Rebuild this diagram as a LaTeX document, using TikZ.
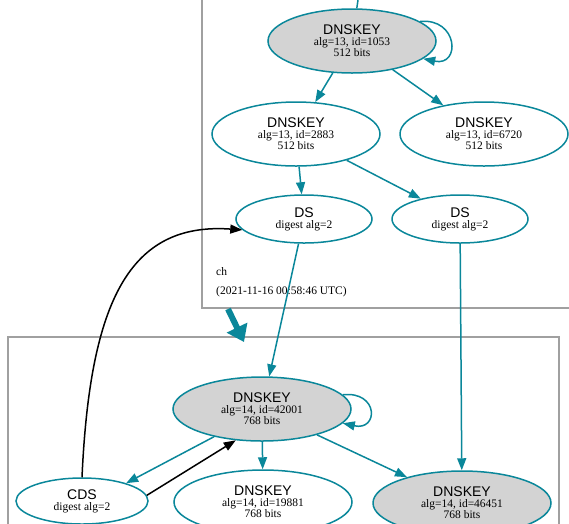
\documentclass[tikz,border=0pt]{standalone}
\usepackage{fontspec}
\setmainfont{Liberation Serif}
\newfontfamily\hvfont{Liberation Sans}
\usepackage{xcolor}
\usetikzlibrary{shapes.geometric,arrows.meta}
\definecolor{dnsteal}{HTML}{0A879A}
\definecolor{keygray}{HTML}{D3D3D3}
\definecolor{zonegray}{HTML}{A0A0A0}
\newcommand{\rrtitle}[1]{{\hvfont\fontsize{14}{14}\selectfont #1}}

\begin{document}
\begin{tikzpicture}[
    x=1pt, y=-1pt,
    rrset/.style={ellipse, draw=dnsteal, line width=1.5pt, inner sep=0pt, align=center,
      font=\fontsize{11.5}{11}\selectfont},
    keynode/.style={rrset, minimum width=168pt, minimum height=64pt},
    sepkey/.style={keynode, fill=keygray},
    dsnode/.style={rrset, minimum width=136pt, minimum height=48pt},
    arrow/.style={-{Triangle[length=12pt,width=9pt]}, draw=dnsteal, line width=1.5pt},
    cdsarrow/.style={arrow, draw=black},
    zone/.style={draw=zonegray, line width=1.3pt},
    zonelabel/.style={anchor=west, inner sep=0pt, font=\fontsize{11.5}{11}\selectfont}
]
\useasboundingbox (0,0) rectangle (569,523);
\clip (0,0) rectangle (569,523);

% zones
\draw[zone] (202,-10) rectangle (590,308);
\draw[zone] (8,337) rectangle (559,540);

% ch
\node[sepkey] (k1053) at (352,41) {\rrtitle{DNSKEY}\\alg=13, id=1053\\512 bits};
\node[keynode] (k2883) at (296,134) {\rrtitle{DNSKEY}\\alg=13, id=2883\\512 bits};
\node[keynode] (k6720) at (484,134) {\rrtitle{DNSKEY}\\alg=13, id=6720\\512 bits};
\node[dsnode] (ds1) at (304,219) {\rrtitle{DS}\\digest alg=2};
\node[dsnode] (ds2) at (460,219) {\rrtitle{DS}\\digest alg=2};
\node[zonelabel] (chname) at (216,272) {ch};
\node[zonelabel] (chdate) at (216,292) {(2021-11-16 00:58:46 UTC)};

% child zone
\node[sepkey, minimum width=178pt] (k42001) at (262,409) {\rrtitle{DNSKEY}\\alg=14, id=42001\\768 bits};
\node[dsnode, minimum width=132pt, minimum height=46pt] (cds) at (82,501) {\rrtitle{CDS}\\digest alg=2};
\node[keynode, minimum width=178pt] (k19881) at (263,502) {\rrtitle{DNSKEY}\\alg=14, id=19881\\768 bits};
\node[sepkey, minimum width=178pt] (k46451) at (462,503) {\rrtitle{DNSKEY}\\alg=14, id=46451\\768 bits};

\coordinate (above) at (358,0);
\coordinate (chout) at (228,309);
\coordinate (childin) at (244,342);

\draw[draw=dnsteal, line width=1.5pt] (above) -- (k1053);
\draw[arrow] (k1053.16) .. controls +(38,-4) and +(38,8) .. (k1053.-14);
\draw[arrow] (k1053) -- (k2883);
\draw[arrow] (k1053) -- (k6720);
\draw[arrow] (k2883) -- (ds1);
\draw[arrow] (k2883) -- (ds2);
\draw[arrow] (ds1) -- (k42001);
\draw[arrow] (ds2) -- (k46451);
\draw[arrow] (k42001.10) .. controls +(36,-4) and +(36,8) .. (k42001.-10);
\draw[arrow] (k42001.210) -- (cds.22);
\draw[arrow] (k42001) -- (k19881);
\draw[arrow] (k42001) -- (k46451);
\draw[cdsarrow] (cds.5) -- (k42001.230);
\draw[cdsarrow] (cds.north) .. controls (90,300) and (130,222) .. (ds1.190);
\draw[-{Triangle[length=16pt,width=22pt]}, draw=dnsteal, line width=6pt] (chout) -- (childin);

\end{tikzpicture}
\end{document}
